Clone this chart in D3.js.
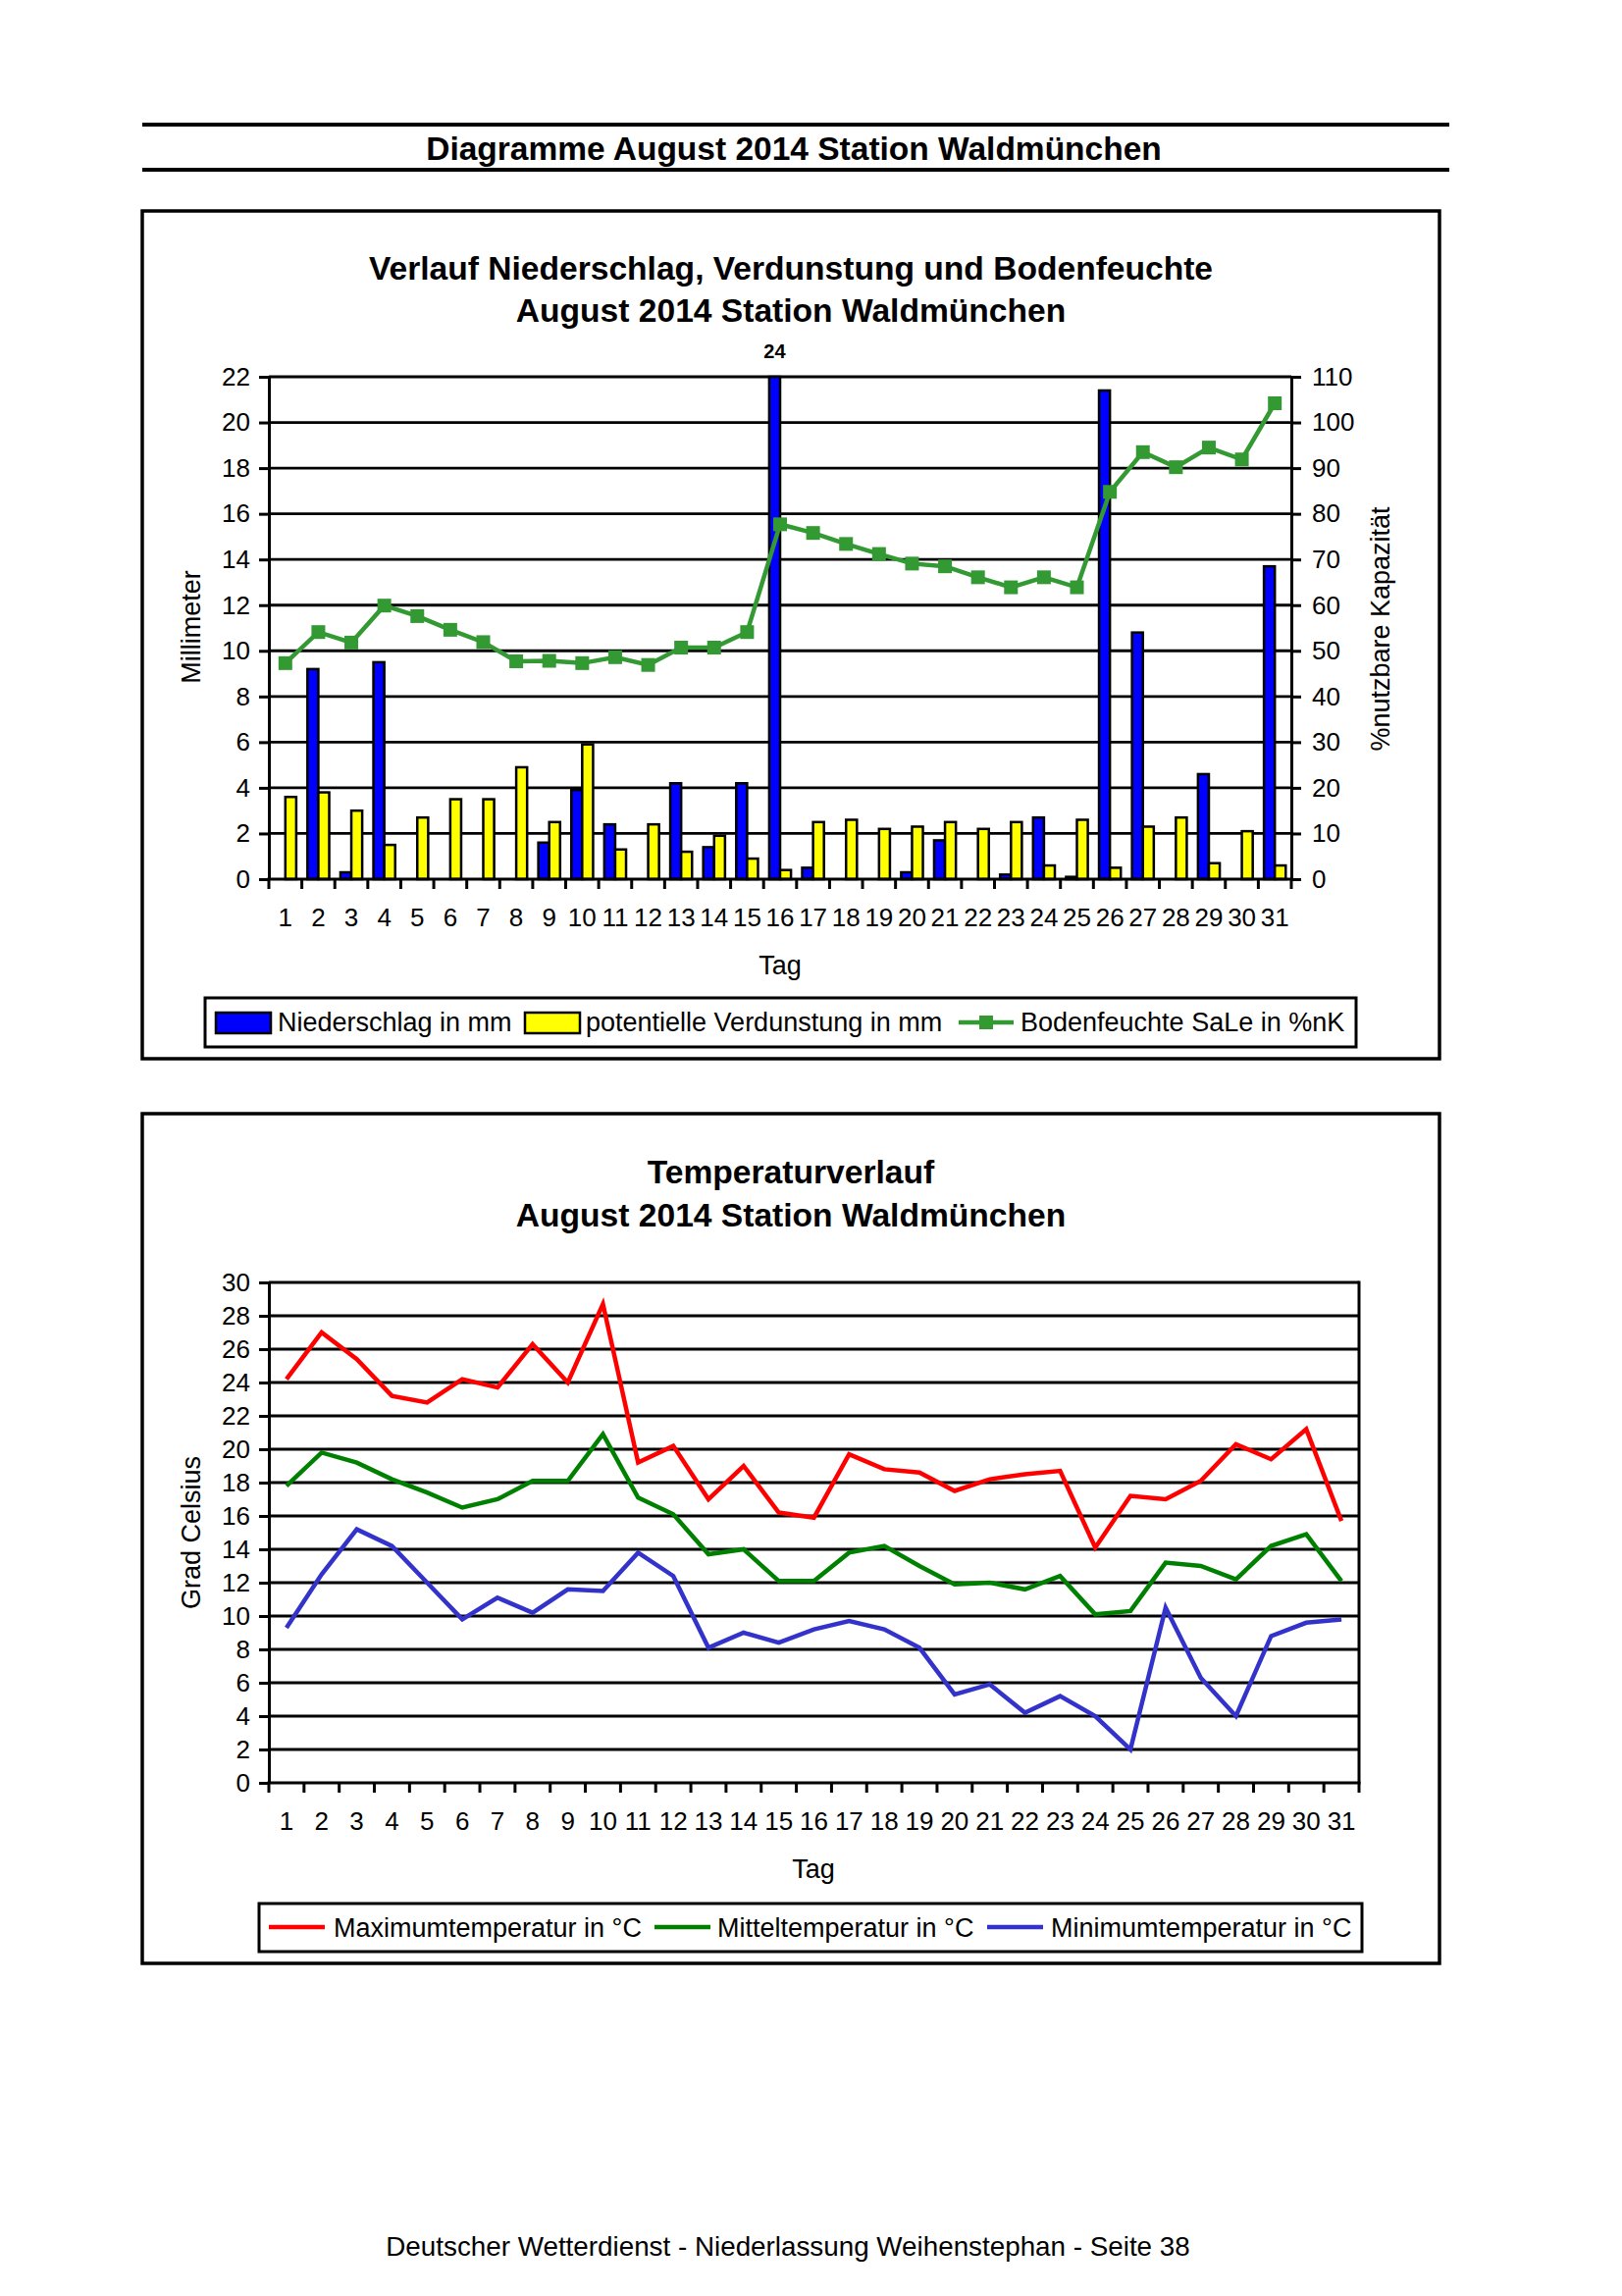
<!DOCTYPE html>
<html><head><meta charset="utf-8">
<script src="https://cdn.jsdelivr.net/npm/d3@7"></script>
<style>html,body{margin:0;padding:0;background:#fff;} svg{display:block;}</style>
</head><body><svg id="c" width="1653" height="2340"></svg>
<script>
const days = d3.range(1, 32).map(String);
const niederschlag = [0,9.2,0.3,9.5,0,0,0,0,1.6,3.9,2.4,0,4.2,1.4,4.2,24,0.5,0,0,0.3,1.7,0,0.2,2.7,0.1,21.4,10.8,0,4.6,0,13.7];
const verdunstung = [3.6,3.8,3.0,1.5,2.7,3.5,3.5,4.9,2.5,5.9,1.3,2.4,1.2,1.9,0.9,0.4,2.5,2.6,2.2,2.3,2.5,2.2,2.5,0.6,2.6,0.5,2.3,2.7,0.7,2.1,0.6];
const bodenfeuchte = [47.3,54.1,51.8,59.9,57.6,54.6,51.9,47.7,47.8,47.3,48.6,46.9,50.7,50.7,54.1,77.7,75.8,73.4,71.2,69.1,68.5,66.1,63.9,66.1,63.9,84.8,93.5,90.2,94.5,91.9,104.2];
const tMax = [24.2,27.0,25.4,23.2,22.8,24.2,23.7,26.3,24.0,28.7,19.2,20.2,17.0,19.0,16.2,15.9,19.7,18.8,18.6,17.5,18.2,18.5,18.7,14.1,17.2,17.0,18.1,20.3,19.4,21.2,15.7];
const tMittel = [17.8,19.8,19.2,18.2,17.4,16.5,17.0,18.1,18.1,20.9,17.1,16.1,13.7,14.0,12.1,12.1,13.8,14.2,13.0,11.9,12.0,11.6,12.4,10.1,10.3,13.2,13.0,12.2,14.2,14.9,12.1];
const tMin = [9.3,12.5,15.2,14.2,12.0,9.8,11.1,10.2,11.6,11.5,13.8,12.4,8.1,9.0,8.4,9.2,9.7,9.2,8.1,5.3,5.9,4.2,5.2,4.0,2.0,10.5,6.3,4.0,8.8,9.6,9.8];
const mmTicks = d3.range(0, 23, 2);
const pctTicks = d3.range(0, 111, 10);
const tempTicks = d3.range(0, 31, 2);

const FONT = '"Liberation Sans", Arial, Helvetica, sans-serif';
const svg = d3.select('#c').attr('font-family', FONT);

function txt(x, y, s, size, opts = {}) {
  const t = svg.append('text').attr('x', x).attr('y', y).text(s)
    .attr('font-size', size).attr('text-anchor', opts.anchor || 'middle')
    .attr('font-weight', opts.bold ? 'bold' : 'normal').attr('fill', '#000');
  if (opts.rotate) t.attr('transform', `rotate(-90 ${x} ${y})`);
  return t;
}
function line(x1, y1, x2, y2, w, c = '#000') {
  return svg.append('line').attr('x1', x1).attr('y1', y1).attr('x2', x2).attr('y2', y2)
    .attr('stroke', c).attr('stroke-width', w);
}

// Header
line(145, 127, 1477, 127, 4);
line(145, 173, 1477, 173, 4);
txt(809, 163, 'Diagramme August 2014 Station Waldmünchen', 33.5, {bold: true});

// ================= Chart 1 =================
svg.append('rect').attr('x', 145).attr('y', 215).attr('width', 1322).attr('height', 864)
  .attr('fill', 'none').attr('stroke', '#000').attr('stroke-width', 3.5);
txt(806, 285, 'Verlauf Niederschlag, Verdunstung und Bodenfeuchte', 33.6, {bold: true});
txt(806, 328, 'August 2014 Station Waldmünchen', 33.6, {bold: true});

const m1 = {left: 274, right: 1316, top: 384, bottom: 896};
const x1 = d3.scaleBand().domain(days).range([m1.left, m1.right]);
const bw1 = x1.bandwidth();
const xs = d3.scaleBand().domain(['n', 'v']).range([bw1 * 0.17, bw1 * 0.83]);
const yMm = d3.scaleLinear().domain([0, 22]).range([m1.bottom, m1.top]).clamp(true);
const yPct = d3.scaleLinear().domain([0, 110]).range([m1.bottom, m1.top]);

const g1 = svg.append('g');
g1.selectAll('.grid').data(mmTicks.filter(d => d > 0)).join('line')
  .attr('x1', m1.left).attr('x2', m1.right)
  .attr('y1', d => yMm(d)).attr('y2', d => yMm(d))
  .attr('stroke', '#000').attr('stroke-width', 2.8);

const rows1 = days.map((d, i) => ({day: d, n: niederschlag[i], v: verdunstung[i], b: bodenfeuchte[i]}));
g1.selectAll('.bn').data(rows1.filter(r => r.n > 0)).join('rect')
  .attr('x', r => x1(r.day) + xs('n')).attr('width', xs.bandwidth())
  .attr('y', r => yMm(r.n)).attr('height', r => yMm(0) - yMm(r.n))
  .attr('fill', '#0000ff').attr('stroke', '#000').attr('stroke-width', 2.5);
g1.selectAll('.bv').data(rows1.filter(r => r.v > 0)).join('rect')
  .attr('x', r => x1(r.day) + xs('v')).attr('width', xs.bandwidth())
  .attr('y', r => yMm(r.v)).attr('height', r => yMm(0) - yMm(r.v))
  .attr('fill', '#ffff00').attr('stroke', '#000').attr('stroke-width', 2.5);

rows1.filter(r => r.n > 22).forEach(r => {
  txt(x1(r.day) + xs('n') + xs.bandwidth() / 2, 365, String(r.n), 20, {bold: true});
});

const axL = g1.append('g').attr('transform', `translate(${m1.left},0)`)
  .call(d3.axisLeft(yMm).tickValues(mmTicks).tickSize(10).tickSizeOuter(0).tickPadding(9));
const axR = g1.append('g').attr('transform', `translate(${m1.right},0)`)
  .call(d3.axisRight(yPct).tickValues(pctTicks).tickSize(10).tickSizeOuter(0).tickPadding(11));
const axB = g1.append('g').attr('transform', `translate(0,${m1.bottom})`)
  .call(d3.axisBottom(x1).tickSize(0).tickPadding(30));
axB.select('.domain').remove();
[axL, axR, axB].forEach(a => {
  a.selectAll('text').attr('font-size', 26).attr('font-family', FONT).attr('fill', '#000');
  a.selectAll('line').attr('stroke', '#000').attr('stroke-width', 3);
  a.select('.domain').attr('stroke', '#000').attr('stroke-width', 3);
});
line(m1.left - 1.5, m1.bottom, m1.right + 1.5, m1.bottom, 3);
g1.selectAll('.xt').data(days.map(d => x1(d)).concat([m1.right])).join('line')
  .attr('x1', d => d).attr('x2', d => d).attr('y1', m1.bottom).attr('y2', m1.bottom + 10)
  .attr('stroke', '#000').attr('stroke-width', 3);

const lineB = d3.line().x(r => x1(r.day) + bw1 / 2).y(r => yPct(r.b));
g1.append('path').datum(rows1).attr('d', lineB).attr('fill', 'none')
  .attr('stroke', '#339933').attr('stroke-width', 4.5);
g1.selectAll('.mk').data(rows1).join('rect')
  .attr('x', r => x1(r.day) + bw1 / 2 - 7).attr('y', r => yPct(r.b) - 7)
  .attr('width', 14).attr('height', 14).attr('fill', '#339933');

txt(204, 639, 'Millimeter', 27, {rotate: true});
txt(1416, 641, '%nutzbare Kapazität', 27, {rotate: true});
txt(795, 993, 'Tag', 27);

svg.append('rect').attr('x', 209).attr('y', 1017).attr('width', 1173).attr('height', 50)
  .attr('fill', '#fff').attr('stroke', '#000').attr('stroke-width', 3);
svg.append('rect').attr('x', 220).attr('y', 1032).attr('width', 56).attr('height', 21)
  .attr('fill', '#0000ff').attr('stroke', '#000').attr('stroke-width', 2.5);
txt(283, 1051, 'Niederschlag in mm', 27, {anchor: 'start'});
svg.append('rect').attr('x', 535).attr('y', 1032).attr('width', 56).attr('height', 21)
  .attr('fill', '#ffff00').attr('stroke', '#000').attr('stroke-width', 2.5);
txt(597, 1051, 'potentielle Verdunstung in mm', 27, {anchor: 'start'});
line(977, 1042, 1033, 1042, 4.5, '#339933');
svg.append('rect').attr('x', 998).attr('y', 1035).attr('width', 14).attr('height', 14).attr('fill', '#339933');
txt(1040, 1051, 'Bodenfeuchte SaLe in %nK', 27, {anchor: 'start'});

// ================= Chart 2 =================
svg.append('rect').attr('x', 145).attr('y', 1135).attr('width', 1322).attr('height', 866)
  .attr('fill', 'none').attr('stroke', '#000').attr('stroke-width', 3.5);
txt(806, 1206, 'Temperaturverlauf', 33.6, {bold: true});
txt(806, 1250, 'August 2014 Station Waldmünchen', 33.6, {bold: true});

const m2 = {left: 274, right: 1385, top: 1307, bottom: 1817};
const x2 = d3.scaleBand().domain(days).range([m2.left, m2.right]);
const bw2 = x2.bandwidth();
const yT = d3.scaleLinear().domain([0, 30]).range([m2.bottom, m2.top]);
const g2 = svg.append('g');
g2.selectAll('.grid').data(tempTicks.filter(d => d > 0)).join('line')
  .attr('x1', m2.left).attr('x2', m2.right)
  .attr('y1', d => yT(d)).attr('y2', d => yT(d))
  .attr('stroke', '#000').attr('stroke-width', 2.8);
line(m2.right, m2.top - 1.4, m2.right, m2.bottom, 3);

const axL2 = g2.append('g').attr('transform', `translate(${m2.left},0)`)
  .call(d3.axisLeft(yT).tickValues(tempTicks).tickSize(10).tickSizeOuter(0).tickPadding(9));
const axB2 = g2.append('g').attr('transform', `translate(0,${m2.bottom})`)
  .call(d3.axisBottom(x2).tickSize(0).tickPadding(30));
axB2.select('.domain').remove();
[axL2, axB2].forEach(a => {
  a.selectAll('text').attr('font-size', 26).attr('font-family', FONT).attr('fill', '#000');
  a.selectAll('line').attr('stroke', '#000').attr('stroke-width', 3);
  a.select('.domain').attr('stroke', '#000').attr('stroke-width', 3);
});
line(m2.left - 1.5, m2.bottom, m2.right + 1.5, m2.bottom, 3);
g2.selectAll('.xt').data(days.map(d => x2(d)).concat([m2.right])).join('line')
  .attr('x1', d => d).attr('x2', d => d).attr('y1', m2.bottom).attr('y2', m2.bottom + 10)
  .attr('stroke', '#000').attr('stroke-width', 3);

const series2 = [
  {name: 'Maximumtemperatur in °C', values: tMax, color: '#ff0000'},
  {name: 'Mitteltemperatur in °C', values: tMittel, color: '#008000'},
  {name: 'Minimumtemperatur in °C', values: tMin, color: '#3333cc'}
];
const lineT = d3.line().x((v, i) => x2(days[i]) + bw2 / 2).y(v => yT(v));
series2.forEach(s => {
  g2.append('path').datum(s.values).attr('d', lineT).attr('fill', 'none')
    .attr('stroke', s.color).attr('stroke-width', 4.5).attr('stroke-linejoin', 'miter');
});

txt(204, 1562, 'Grad Celsius', 27, {rotate: true});
txt(829, 1914, 'Tag', 27);

svg.append('rect').attr('x', 264).attr('y', 1940).attr('width', 1124).attr('height', 49)
  .attr('fill', '#fff').attr('stroke', '#000').attr('stroke-width', 3);
const legX = [[274, 340], [667, 731], [1006, 1071]];
series2.forEach((s, i) => {
  line(legX[i][0], 1964, legX[i][0] + 57, 1964, 4.5, s.color);
  txt(legX[i][1], 1974, s.name, 27, {anchor: 'start'});
});

txt(803, 2299, 'Deutscher Wetterdienst - Niederlassung Weihenstephan - Seite 38', 27.8);
</script>
</body></html>
